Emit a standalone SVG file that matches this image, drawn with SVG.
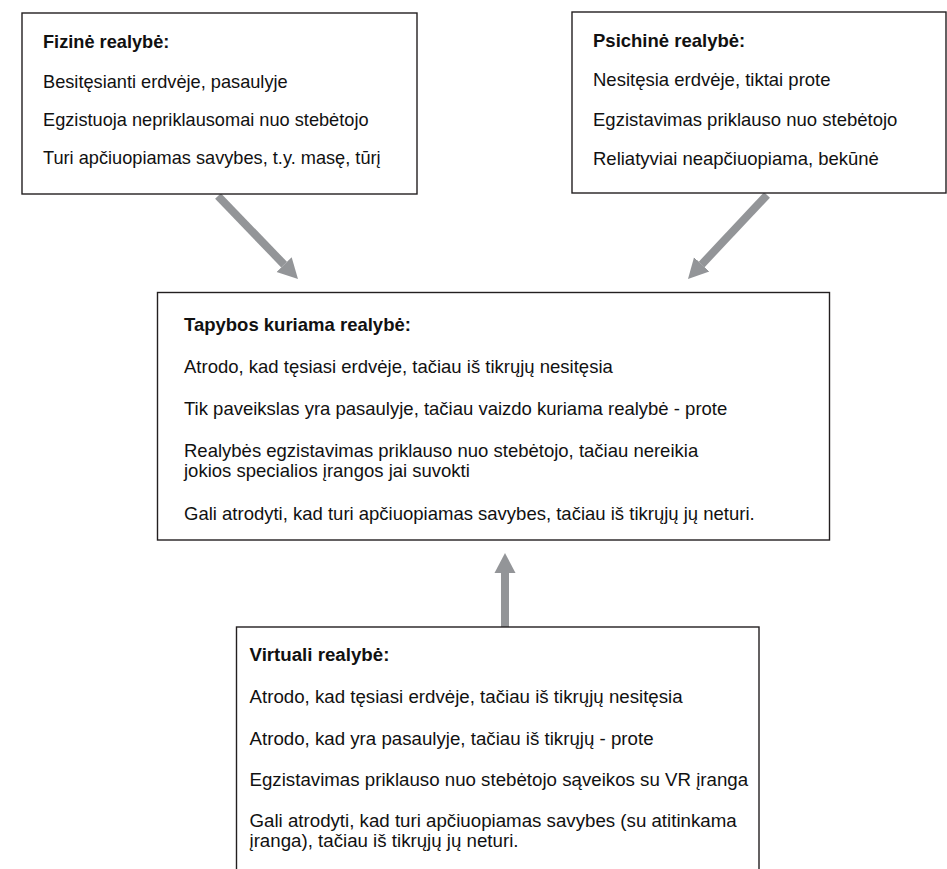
<svg xmlns="http://www.w3.org/2000/svg" width="947" height="869" viewBox="0 0 947 869">
  <style>
    .box { fill: #ffffff; stroke: #231f20; stroke-width: 1.4; }
    .t { font-family: "Liberation Sans", Arial, sans-serif; font-size: 18.5px; fill: #111111; }
    .h { font-weight: bold; }
    .link { stroke: #939598; stroke-width: 8; fill: none; marker-end: url(#head); }
  </style>
  <defs>
    <marker id="head" markerUnits="userSpaceOnUse" markerWidth="22" markerHeight="24" viewBox="0 -12 22 24" refX="0" refY="0" orient="auto">
      <path d="M0,-10.5 L20,0 L0,10.5 Z" fill="#939598"/>
    </marker>
  </defs>

  <rect width="947" height="869" fill="#ffffff"/>

  <!-- connectors -->
  <g id="connectors">
    <line class="link" x1="218" y1="196" x2="284.1" y2="264.6"/>
    <line class="link" x1="767" y1="195" x2="701.7" y2="264.4"/>
    <line class="link" x1="505" y1="627" x2="505" y2="573"/>
  </g>

  <!-- physical reality -->
  <g id="fizine">
    <rect class="box" x="22" y="13" width="395" height="181"/>
    <text class="t h" x="43" y="48" style="font-size:18.2px">Fizinė realybė:</text>
    <text class="t" x="43" y="88" style="font-size:18.2px">Besitęsianti erdvėje, pasaulyje</text>
    <text class="t" x="43" y="126" style="font-size:18.2px">Egzistuoja nepriklausomai nuo stebėtojo</text>
    <text class="t" x="43" y="164" style="font-size:18.2px">Turi apčiuopiamas savybes, t.y. masę, tūrį</text>
  </g>

  <!-- psychic reality -->
  <g id="psichine">
    <rect class="box" x="572" y="12" width="374" height="181"/>
    <text class="t h" x="593" y="47">Psichinė realybė:</text>
    <text class="t" x="593" y="86">Nesitęsia erdvėje, tiktai prote</text>
    <text class="t" x="593" y="126">Egzistavimas priklauso nuo stebėtojo</text>
    <text class="t" x="593" y="165">Reliatyviai neapčiuopiama, bekūnė</text>
  </g>

  <!-- reality created by painting -->
  <g id="tapybos">
    <rect class="box" x="157.5" y="292.5" width="672" height="247.5"/>
    <text class="t h" x="184" y="331">Tapybos kuriama realybė:</text>
    <text class="t" x="184" y="373">Atrodo, kad tęsiasi erdvėje, tačiau iš tikrųjų nesitęsia</text>
    <text class="t" x="184" y="415">Tik paveikslas yra pasaulyje, tačiau vaizdo kuriama realybė - prote</text>
    <text class="t" x="184" y="457">Realybės egzistavimas priklauso nuo stebėtojo, tačiau nereikia</text>
    <text class="t" x="184" y="477">jokios specialios įrangos jai suvokti</text>
    <text class="t" x="184" y="520">Gali atrodyti, kad turi apčiuopiamas savybes, tačiau iš tikrųjų jų neturi.</text>
  </g>

  <!-- virtual reality -->
  <g id="virtuali" style="font-size:18.7px">
    <rect class="box" x="236.5" y="627" width="522.5" height="262"/>
    <text class="t h" x="249.5" y="661" style="font-size:18.7px">Virtuali realybė:</text>
    <text class="t" x="249.5" y="703" style="font-size:18.7px">Atrodo, kad tęsiasi erdvėje, tačiau iš tikrųjų nesitęsia</text>
    <text class="t" x="249.5" y="745" style="font-size:18.7px">Atrodo, kad yra pasaulyje, tačiau iš tikrųjų - prote</text>
    <text class="t" x="249.5" y="786" style="font-size:18.7px">Egzistavimas priklauso nuo stebėtojo sąveikos su VR įranga</text>
    <text class="t" x="249.5" y="827" style="font-size:18.7px">Gali atrodyti, kad turi apčiuopiamas savybes (su atitinkama</text>
    <text class="t" x="249.5" y="847" style="font-size:18.7px">įranga), tačiau iš tikrųjų jų neturi.</text>
  </g>
</svg>
